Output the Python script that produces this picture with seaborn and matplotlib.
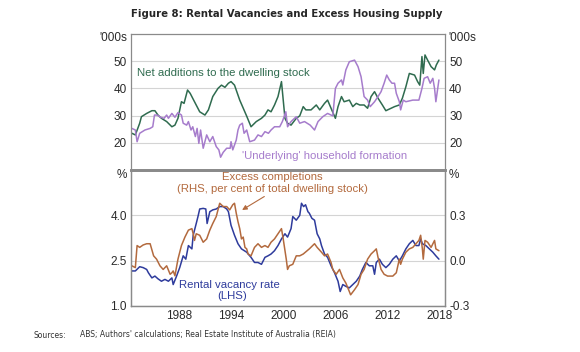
import matplotlib
matplotlib.use("Agg")
import matplotlib.pyplot as plt
import matplotlib.transforms as mtransforms
import seaborn as sns

# values (years as decimal dates)
net_years = [1982.6, 1983.0, 1983.5, 1983.7, 1984.3, 1984.9, 1985.25, 1985.6, 1986.0, 1986.6,
             1987.2, 1987.55, 1987.9, 1988.3, 1988.6, 1989.0, 1989.3, 1989.8, 1990.4, 1991.0,
             1991.4, 1991.9, 1992.5, 1992.9, 1993.3, 1993.7, 1994.0, 1994.4, 1995.0, 1995.8,
             1996.3, 1996.9, 1997.5, 1997.9, 1998.25, 1998.6, 1999.0, 1999.4, 1999.8, 2000.2,
             2000.5, 2000.9, 2001.5, 2001.9, 2002.3, 2002.6, 2003.2, 2003.8, 2004.2, 2004.75,
             2005.1, 2005.5, 2006.0, 2006.3, 2006.7, 2007.0, 2007.6, 2008.0, 2008.4, 2008.8,
             2009.3, 2009.7, 2010.1, 2010.5, 2010.9, 2011.4, 2011.8, 2012.4, 2012.8, 2013.35,
             2013.7, 2014.1, 2014.5, 2015.1, 2015.45, 2015.7, 2015.95, 2016.1, 2016.3, 2016.6,
             2017.0, 2017.4, 2017.6, 2017.9]
net_additions = [23.5, 22.9, 27.2, 29.6, 30.8, 31.8, 31.8, 30.2, 29.0, 27.8,
                 25.9, 26.5, 29.0, 35.1, 34.5, 39.4, 38.2, 35.1, 31.4, 30.2,
                 32.1, 37.0, 40.0, 41.2, 40.4, 41.9, 42.5, 41.2, 35.7, 29.8,
                 25.9, 27.8, 29.0, 30.2, 32.1, 31.4, 33.9, 37.0, 42.5, 29.0,
                 27.2, 26.5, 29.0, 29.9, 33.3, 32.1, 32.1, 33.9, 32.1, 34.5,
                 35.7, 32.7, 29.0, 33.3, 37.0, 35.1, 35.7, 33.3, 34.5, 33.9,
                 33.9, 32.7, 37.0, 38.8, 36.4, 33.9, 31.8, 32.7, 33.3, 33.9,
                 36.4, 40.6, 45.5, 44.9, 42.5, 41.2, 51.7, 45.5, 52.3, 50.4,
                 48.0, 46.8, 48.6, 50.4]

hh_years = [1982.6, 1983.0, 1983.2, 1983.5, 1984.1, 1984.7, 1985.0, 1985.2, 1985.5, 1985.9,
            1986.3, 1986.6, 1986.8, 1987.2, 1987.55, 1987.9, 1988.3, 1988.5, 1988.9, 1989.1,
            1989.4, 1989.6, 1989.9, 1990.1, 1990.3, 1990.5, 1990.8, 1991.2, 1991.56, 1991.9,
            1992.3, 1992.6, 1992.8, 1993.1, 1993.5, 1993.9, 1994.0, 1994.2, 1994.6, 1994.8,
            1995.0, 1995.3, 1995.5, 1995.8, 1996.15, 1996.7, 1997.1, 1997.5, 1997.9, 1998.3,
            1998.6, 1999.0, 1999.6, 1999.9, 2000.3, 2000.5, 2000.9, 2001.5, 2001.9, 2002.45,
            2003.1, 2003.6, 2004.0, 2004.55, 2005.1, 2005.5, 2005.7, 2006.0, 2006.3, 2006.7,
            2006.85, 2007.2, 2007.6, 2008.2, 2008.6, 2008.95, 2009.3, 2009.7, 2010.0, 2010.5,
            2010.9, 2011.25, 2011.6, 2011.9, 2012.2, 2012.5, 2012.8, 2013.0, 2013.35, 2013.5,
            2013.8, 2014.1, 2014.9, 2015.6, 2015.95, 2016.2, 2016.6, 2016.9, 2017.2, 2017.4,
            2017.55, 2017.9]
hh_formation = [25.3, 24.7, 20.4, 23.5, 24.7, 25.3, 25.9, 30.2, 30.2, 29.4,
                29.0, 30.2, 29.0, 30.8, 29.4, 31.1, 30.2, 27.2, 26.5, 27.8,
                24.7, 25.9, 22.3, 25.3, 19.8, 24.7, 18.0, 22.9, 20.4, 22.3,
                18.6, 17.4, 14.7, 16.5, 18.0, 18.0, 20.4, 17.4, 21.0, 24.7,
                26.5, 27.2, 23.5, 24.7, 20.4, 21.0, 22.9, 22.3, 24.1, 23.5,
                24.7, 25.9, 25.9, 27.8, 31.4, 25.9, 27.8, 29.6, 27.2, 27.8,
                26.5, 24.7, 27.8, 29.6, 30.8, 30.2, 29.9, 40.0, 41.9, 43.1,
                41.25, 46.8, 49.8, 50.4, 48.0, 44.3, 37.0, 35.7, 33.3, 35.1,
                37.0, 38.8, 41.9, 44.9, 43.1, 41.9, 41.9, 38.2, 35.1, 32.1,
                35.7, 35.1, 35.7, 35.7, 40.0, 43.7, 44.3, 41.9, 43.7, 40.0,
                35.1, 43.1]

vac_years = [1982.6, 1983.0, 1983.5, 1983.9, 1984.3, 1984.5, 1984.9, 1985.25, 1985.6, 1986.0,
             1986.4, 1986.8, 1987.2, 1987.35, 1987.74, 1988.1, 1988.5, 1988.8, 1989.1, 1989.5,
             1989.65, 1990.0, 1990.2, 1990.4, 1990.8, 1991.1, 1991.25, 1991.56, 1991.9, 1992.3,
             1992.7, 1993.1, 1993.5, 1993.7, 1994.0, 1994.4, 1994.8, 1995.2, 1995.8, 1996.3,
             1996.7, 1997.1, 1997.5, 1997.9, 1998.25, 1998.6, 1999.0, 1999.4, 1999.8, 2000.2,
             2000.5, 2000.9, 2001.1, 2001.5, 2001.9, 2002.1, 2002.34, 2002.57, 2002.84, 2003.0,
             2003.3, 2003.6, 2003.9, 2004.2, 2004.4, 2004.75, 2005.1, 2005.5, 2005.9, 2006.3,
             2006.55, 2006.85, 2007.2, 2007.6, 2008.0, 2008.4, 2008.8, 2009.1, 2009.5, 2009.9,
             2010.3, 2010.5, 2010.7, 2011.06, 2011.4, 2011.8, 2012.2, 2012.6, 2013.0, 2013.35,
             2013.7, 2014.1, 2014.5, 2014.9, 2015.26, 2015.6, 2015.8, 2016.0, 2016.4, 2016.8,
             2017.2, 2017.55, 2017.9]
vacancy_rate = [2.16, 2.16, 2.30, 2.27, 2.21, 2.10, 1.93, 1.99, 1.90, 1.82,
                1.88, 1.82, 1.93, 1.71, 1.99, 2.27, 2.66, 2.55, 3.00, 2.89,
                3.34, 3.73, 3.96, 4.21, 4.23, 4.21, 3.73, 4.12, 4.18, 4.21,
                4.29, 4.29, 4.21, 4.12, 3.67, 3.34, 3.06, 2.89, 2.78, 2.61,
                2.44, 2.44, 2.38, 2.61, 2.66, 2.72, 2.83, 3.00, 3.22, 3.39,
                3.28, 3.56, 3.96, 3.84, 4.00, 4.40, 4.29, 4.35, 4.12, 4.07,
                3.90, 3.84, 3.39, 3.22, 3.00, 2.72, 2.61, 2.33, 2.10, 1.82,
                1.48, 1.71, 1.65, 1.60, 1.71, 1.82, 1.99, 2.21, 2.44, 2.33,
                2.33, 2.05, 2.44, 2.55, 2.38, 2.27, 2.38, 2.55, 2.66, 2.49,
                2.66, 2.89, 3.06, 3.17, 3.00, 3.00, 3.22, 3.06, 3.00, 2.89,
                2.78, 2.66, 2.55]

exc_years = [1982.6, 1983.0, 1983.2, 1983.5, 1983.9, 1984.3, 1984.7, 1985.1, 1985.44, 1985.83,
             1986.2, 1986.6, 1987.0, 1987.2, 1987.35, 1987.55, 1987.9, 1988.3, 1988.7, 1989.1,
             1989.5, 1989.65, 1989.8, 1990.0, 1990.4, 1990.8, 1991.2, 1991.56, 1991.9, 1992.3,
             1992.7, 1993.1, 1993.5, 1993.85, 1994.2, 1994.4, 1994.6, 1994.8, 1995.0, 1995.2,
             1995.4, 1995.6, 1995.8, 1995.96, 1996.3, 1996.7, 1997.1, 1997.5, 1997.9, 1998.25,
             1998.6, 1999.0, 1999.4, 1999.8, 2000.0, 2000.35, 2000.5, 2000.7, 2001.1, 2001.5,
             2001.9, 2002.3, 2003.0, 2003.6, 2003.9, 2004.4, 2004.75, 2005.1, 2005.5, 2005.7,
             2006.09, 2006.47, 2006.85, 2007.2, 2007.6, 2007.75, 2008.2, 2008.6, 2008.95, 2009.3,
             2009.7, 2010.1, 2010.5, 2010.7, 2010.9, 2011.25, 2011.6, 2012.0, 2012.6, 2013.0,
             2013.35, 2013.5, 2013.7, 2014.1, 2014.5, 2014.9, 2015.26, 2015.6, 2015.8, 2016.0,
             2016.1, 2016.3, 2016.6, 2017.0, 2017.4, 2017.55, 2017.9]
excess_completions = [-0.034, -0.046, 0.100, 0.088, 0.104, 0.112, 0.112, 0.032, 0.010, -0.034,
                      -0.058, -0.034, -0.090, -0.080, -0.068, -0.100, 0.010, 0.100, 0.156, 0.202,
                      0.212, 0.178, 0.134, 0.178, 0.168, 0.122, 0.144, 0.202, 0.246, 0.292,
                      0.380, 0.358, 0.358, 0.336, 0.370, 0.380, 0.314, 0.258, 0.212, 0.144,
                      0.156, 0.088, 0.078, 0.044, 0.032, 0.088, 0.112, 0.088, 0.100, 0.088,
                      0.122, 0.144, 0.178, 0.212, 0.144, 0.010, -0.058, -0.034, -0.024, 0.032,
                      0.032, 0.044, 0.078, 0.112, 0.088, 0.056, 0.032, 0.044, -0.012, -0.058,
                      -0.090, -0.058, -0.114, -0.148, -0.204, -0.226, -0.192, -0.158, -0.090, -0.058,
                      0.010, 0.044, 0.066, 0.078, 0.022, -0.058, -0.090, -0.102, -0.102, -0.080,
                      0.010, -0.024, 0.010, 0.056, 0.078, 0.088, 0.112, 0.134, 0.168, 0.078,
                      0.010, 0.134, 0.122, 0.088, 0.134, 0.078, 0.066]

year_labels = [1988, 1994, 2000, 2006, 2012, 2018]

GREEN = "#2f6b4f"
PURPLE = "#a67ccc"
BLUE = "#2e3b9c"
BROWN = "#b36a3e"
GRID = "#d4d4d4"
SPINE = "#8a8a8a"
TXT = "#2a2a2a"

sns.set_style("white")
plt.rcParams["font.family"] = ["Liberation Sans", "DejaVu Sans"]

W, H = 580, 352
fig = plt.figure(figsize=(W / 100, H / 100), dpi=100)
L, R, T, M, B = 131, 445, 34, 170, 306
ax1 = fig.add_axes([L / W, 1 - M / H, (R - L) / W, (M - T) / H])
ax2 = fig.add_axes([L / W, 1 - B / H, (R - L) / W, (B - M) / H])
ax2r = ax2.twinx()

xlim = (1982.5, 2018.6)
TICK_FS = 8.5
LAB_FS = 8.2

# upper panel
sns.lineplot(x=net_years, y=net_additions, ax=ax1, color=GREEN, lw=1.1)
sns.lineplot(x=hh_years, y=hh_formation, ax=ax1, color=PURPLE, lw=1.1)
ax1.set_xlim(*xlim)
ax1.set_ylim(10, 60)
ax1.set_yticks([20, 30, 40, 50])
ax1.set_xticks([])
ax1.tick_params(axis="y", length=0, labelsize=TICK_FS, labelcolor=TXT,
                labelleft=True, labelright=True, pad=3)

# lower panel
sns.lineplot(x=vac_years, y=vacancy_rate, ax=ax2, color=BLUE, lw=1.1, zorder=3)
sns.lineplot(x=exc_years, y=excess_completions, ax=ax2r, color=BROWN, lw=1.1)
ax2.set_xlim(*xlim)
ax2.set_ylim(1.0, 5.5)
ax2.set_yticks([1.0, 2.5, 4.0])
ax2.set_yticklabels(["1.0", "2.5", "4.0"])
ax2r.set_ylim(-0.3, 0.6)
ax2r.set_yticks([-0.3, 0.0, 0.3])
ax2r.set_yticklabels(["-0.3", "0.0", "0.3"])
ax2.tick_params(axis="y", length=0, labelsize=TICK_FS, labelcolor=TXT, pad=3)
ax2r.tick_params(axis="y", length=0, labelsize=TICK_FS, labelcolor=TXT, pad=3)
ax2.set_xticks(year_labels)
ax2.set_xticklabels([str(y) for y in year_labels])
ax2.set_xticks(range(1983, 2019), minor=True)
ax2.tick_params(axis="x", which="both", direction="in", length=3, width=0.6,
                color=SPINE, labelsize=TICK_FS, labelcolor=TXT, pad=3)

for ax in (ax1, ax2):
    ax.grid(axis="y", color=GRID, lw=0.8)
    ax.grid(axis="x", visible=False)
    ax.set_xlabel("")
    ax.set_ylabel("")
    ax.set_facecolor("none")
ax2r.set_ylabel("")
ax2r.grid(False)

for ax in (ax1, ax2, ax2r):
    for s in ax.spines.values():
        s.set_color(SPINE)
        s.set_linewidth(0.9)
ax1.spines["bottom"].set_linewidth(1.8)
ax2.spines["top"].set_linewidth(1.8)
ax2r.spines["top"].set_linewidth(1.8)

# units
tr1 = mtransforms.blended_transform_factory(ax1.transAxes, ax1.transData)
ax1.text(-0.012, 58.5, "'000s", transform=tr1, ha="right", va="center", fontsize=TICK_FS, color=TXT)
ax1.text(1.012, 58.5, "'000s", transform=tr1, ha="left", va="center", fontsize=TICK_FS, color=TXT)
tr2 = mtransforms.blended_transform_factory(ax2.transAxes, ax2.transData)
ax2.text(-0.012, 5.35, "%", transform=tr2, ha="right", va="center", fontsize=TICK_FS, color=TXT)
ax2.text(1.012, 5.35, "%", transform=tr2, ha="left", va="center", fontsize=TICK_FS, color=TXT)

# series labels
ax1.text(1983.2, 45.7, "Net additions to the dwelling stock", color=GREEN, fontsize=LAB_FS,
         ha="left", va="center")
ax1.text(1995.3, 15.1, "'Underlying' household formation", color=PURPLE, fontsize=LAB_FS,
         ha="left", va="center")
ax2.text(1998.8, 5.28, "Excess completions", color=BROWN, fontsize=LAB_FS, ha="center", va="center")
ax2.text(1998.8, 4.88, "(RHS, per cent of total dwelling stock)", color=BROWN, fontsize=LAB_FS,
         ha="center", va="center")
ax2.annotate("", xy=(1995.0, 4.13), xytext=(1998.1, 4.67),
             arrowprops=dict(arrowstyle="-|>", color=BROWN, lw=0.8, mutation_scale=7))
ax2.text(1988.0, 1.71, "Rental vacancy rate", color=BLUE, fontsize=LAB_FS, ha="left", va="center")
ax2.text(1994.1, 1.34, "(LHS)", color=BLUE, fontsize=LAB_FS, ha="center", va="center")

fig.text(287 / W, 1 - 14 / H, "Figure 8: Rental Vacancies and Excess Housing Supply",
         ha="center", va="center", fontsize=7.3, fontweight="bold", family="DejaVu Sans")
fig.text(33 / W, 1 - 335 / H, "Sources:", ha="left", va="center", fontsize=5.5,
         family="DejaVu Sans", color="#333333")
fig.text(80 / W, 1 - 335 / H, "ABS; Authors' calculations; Real Estate Institute of Australia (REIA)",
         ha="left", va="center", fontsize=5.5, family="DejaVu Sans", color="#333333")

fig.savefig("out.png", dpi=100)
